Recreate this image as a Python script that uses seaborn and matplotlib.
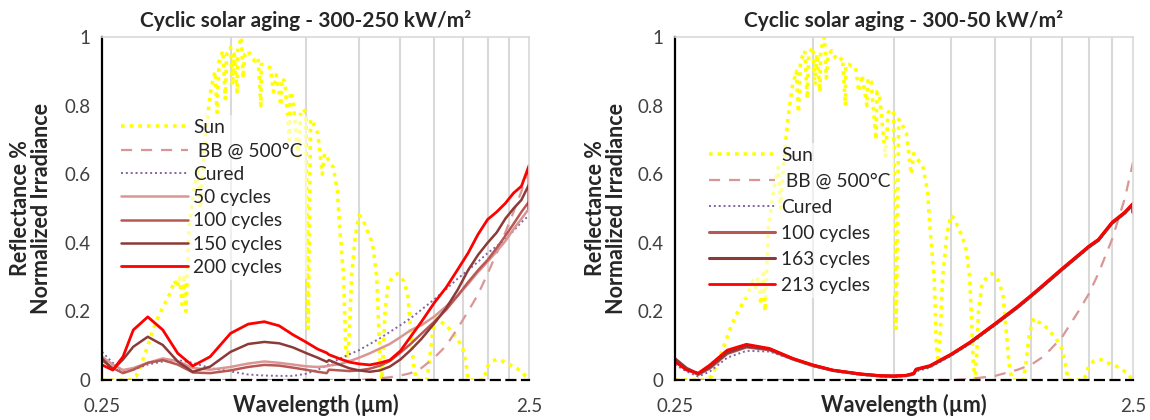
import numpy as np
import pandas as pd
import matplotlib
matplotlib.use('Agg')
import matplotlib.pyplot as plt
from matplotlib.ticker import FixedLocator, NullFormatter, FixedFormatter
import seaborn as sns

sns.set_style('white')
plt.rcParams['font.family'] = ['Lato', 'DejaVu Sans']

# normalized AM1.5 sun spectrum
sun_wl = [0.25, 0.29, 0.30, 0.31, 0.32, 0.33, 0.34, 0.35, 0.36, 0.37, 0.375, 0.38, 0.385, 0.39, 0.393,
          0.40, 0.41, 0.42, 0.425, 0.43, 0.435, 0.44, 0.45, 0.46, 0.465, 0.47, 0.48, 0.486, 0.49, 0.50,
          0.505, 0.51, 0.518, 0.52, 0.53, 0.535, 0.54, 0.55, 0.56, 0.57, 0.58, 0.589, 0.59, 0.60, 0.62,
          0.63, 0.64, 0.656, 0.66, 0.67, 0.687, 0.69, 0.70, 0.72, 0.73, 0.74, 0.75, 0.76, 0.77, 0.78,
          0.80, 0.82, 0.83, 0.85, 0.87, 0.89, 0.90, 0.92, 0.93, 0.94, 0.95, 0.96, 0.98, 1.0, 1.02,
          1.04, 1.06, 1.08, 1.10, 1.12, 1.13, 1.14, 1.15, 1.17, 1.20, 1.23, 1.25, 1.27, 1.30, 1.32,
          1.34, 1.36, 1.40, 1.44, 1.46, 1.48, 1.50, 1.52, 1.55, 1.60, 1.65, 1.70, 1.75, 1.78, 1.80,
          1.95, 1.98, 2.0, 2.05, 2.1, 2.15, 2.2, 2.3, 2.4, 2.5]
sun_val = [0.0, 0.0, 0.01, 0.05, 0.10, 0.15, 0.19, 0.22, 0.25, 0.29, 0.27, 0.30, 0.22, 0.31, 0.20,
           0.45, 0.55, 0.62, 0.50, 0.60, 0.68, 0.75, 0.85, 0.90, 0.78, 0.93, 0.96, 0.82, 0.95, 0.97,
           0.86, 0.95, 0.84, 0.96, 1.0, 0.88, 0.95, 0.96, 0.94, 0.93, 0.94, 0.80, 0.92, 0.92, 0.91,
           0.84, 0.89, 0.80, 0.88, 0.87, 0.70, 0.84, 0.82, 0.65, 0.78, 0.79, 0.78, 0.15, 0.76, 0.75,
           0.72, 0.60, 0.66, 0.64, 0.62, 0.55, 0.45, 0.30, 0.10, 0.05, 0.15, 0.30, 0.42, 0.48, 0.47,
           0.44, 0.42, 0.38, 0.30, 0.05, 0.0, 0.08, 0.20, 0.28, 0.30, 0.31, 0.30, 0.29, 0.25, 0.15,
           0.05, 0.0, 0.0, 0.0, 0.05, 0.12, 0.16, 0.18, 0.17, 0.16, 0.14, 0.12, 0.09, 0.05, 0.0,
           0.0, 0.02, 0.04, 0.055, 0.06, 0.058, 0.05, 0.04, 0.025, 0.0]

# left chart: 300-250 kW/m2
wl_left = [0.25, 0.265, 0.28, 0.296, 0.32, 0.347, 0.376, 0.408, 0.448, 0.5, 0.55, 0.6, 0.65, 0.7,
           0.75, 0.8, 0.84, 0.85, 0.9, 0.95, 1.0, 1.06, 1.12, 1.18, 1.25, 1.32, 1.4, 1.5, 1.6, 1.7,
           1.8, 1.9, 2.0, 2.1, 2.2, 2.3, 2.4, 2.5, 2.5]
bb_left = [0.0, 0.0, 0.0, 0.0, 0.0, 0.0, 0.0, 0.0, 0.0, 0.0, 0.0, 0.0, 0.0, 0.0,
           0.0, 0.0, 0.0, 0.0, 0.0, 0.0, 0.0, 0.002, 0.005, 0.008, 0.013, 0.02, 0.035, 0.065, 0.10, 0.15,
           0.20, 0.25, 0.31, 0.37, 0.43, 0.49, 0.55, 0.62, 0.62]
cured_left = [0.082, 0.05, 0.024, 0.03, 0.045, 0.054, 0.058, 0.05, 0.035, 0.025, 0.016, 0.013, 0.012, 0.012,
              0.018, 0.03, 0.042, 0.046, 0.062, 0.075, 0.087, 0.105, 0.122, 0.14, 0.16, 0.18, 0.205, 0.235, 0.265, 0.295,
              0.32, 0.345, 0.37, 0.39, 0.41, 0.435, 0.46, 0.48, 0.48]
c50_left = [0.068, 0.045, 0.029, 0.035, 0.05, 0.063, 0.055, 0.035, 0.03, 0.038, 0.048, 0.054, 0.05, 0.045,
            0.04, 0.038, 0.04, 0.042, 0.046, 0.055, 0.065, 0.078, 0.092, 0.105, 0.125, 0.145, 0.16, 0.185, 0.215, 0.245,
            0.28, 0.315, 0.345, 0.375, 0.405, 0.44, 0.47, 0.50, 0.49]
c100_left = [0.058, 0.035, 0.02, 0.03, 0.05, 0.058, 0.045, 0.022, 0.02, 0.028, 0.038, 0.044, 0.042, 0.036,
             0.03, 0.024, 0.02, 0.03, 0.028, 0.026, 0.028, 0.033, 0.042, 0.055, 0.08, 0.105, 0.135, 0.17, 0.205, 0.245,
             0.285, 0.32, 0.35, 0.385, 0.42, 0.455, 0.49, 0.52, 0.50]
c150_left = [0.063, 0.03, 0.06, 0.097, 0.126, 0.102, 0.054, 0.024, 0.039, 0.082, 0.105, 0.111, 0.107, 0.095,
             0.079, 0.065, 0.053, 0.058, 0.045, 0.034, 0.028, 0.024, 0.028, 0.039, 0.06, 0.087, 0.12, 0.165, 0.21, 0.262,
             0.32, 0.365, 0.40, 0.43, 0.47, 0.50, 0.525, 0.57, 0.50]
c200_left = [0.044, 0.029, 0.068, 0.146, 0.184, 0.146, 0.078, 0.041, 0.068, 0.136, 0.163, 0.170, 0.158, 0.132,
             0.111, 0.09, 0.079, 0.074, 0.062, 0.052, 0.047, 0.044, 0.05, 0.058, 0.085, 0.126, 0.17, 0.225, 0.27, 0.321,
             0.37, 0.425, 0.468, 0.49, 0.515, 0.545, 0.565, 0.625, 0.50]

# right chart: 300-50 kW/m2
wl_right = [0.25, 0.265, 0.281, 0.298, 0.325, 0.358, 0.402, 0.452, 0.5, 0.553, 0.635, 0.7, 0.75, 0.8,
            0.83, 0.84, 0.9, 1.0, 1.1, 1.25, 1.4, 1.5, 1.6, 1.75, 1.9, 2.0, 2.1, 2.25, 2.4, 2.5, 2.5]
bb_right = [0.0, 0.0, 0.0, 0.0, 0.0, 0.0, 0.0, 0.0, 0.0, 0.0, 0.0, 0.0, 0.0, 0.0,
            0.0, 0.0, 0.0, 0.0, 0.003, 0.012, 0.03, 0.045, 0.07, 0.125, 0.20, 0.25, 0.31, 0.41, 0.53, 0.635, 0.635]
cured_right = [0.045, 0.025, 0.01, 0.025, 0.065, 0.085, 0.083, 0.06, 0.04, 0.026, 0.015, 0.01, 0.009, 0.011,
               0.015, 0.025, 0.036, 0.07, 0.105, 0.16, 0.21, 0.243, 0.275, 0.32, 0.36, 0.385, 0.405, 0.455, 0.485, 0.51, 0.49]
c100_right = [0.058, 0.032, 0.016, 0.035, 0.077, 0.096, 0.088, 0.061, 0.042, 0.028, 0.017, 0.012, 0.011, 0.013,
              0.018, 0.03, 0.04, 0.073, 0.108, 0.163, 0.213, 0.246, 0.278, 0.323, 0.363, 0.388, 0.408, 0.458, 0.488, 0.513, 0.489]
c163_right = [0.062, 0.034, 0.018, 0.038, 0.08, 0.099, 0.09, 0.062, 0.043, 0.028, 0.017, 0.012, 0.011, 0.013,
              0.018, 0.03, 0.04, 0.073, 0.108, 0.162, 0.212, 0.245, 0.277, 0.322, 0.362, 0.387, 0.407, 0.457, 0.487, 0.512, 0.488]
c213_right = [0.053, 0.029, 0.020, 0.044, 0.087, 0.104, 0.092, 0.063, 0.044, 0.029, 0.018, 0.013, 0.012, 0.014,
              0.02, 0.032, 0.042, 0.075, 0.11, 0.165, 0.215, 0.248, 0.28, 0.325, 0.365, 0.39, 0.41, 0.46, 0.49, 0.515, 0.49]

x_grid = [0.5, 0.75, 1.0, 1.25, 1.5, 1.75, 2.0, 2.25]

SUN = dict(color='#FFFF00', lw=2.6, ls=(0, (1, 1.4)))
BB = dict(color='#DA9694', lw=1.6, ls=(0, (5, 4)))
CURED = dict(color='#8064A2', lw=1.4, ls=(0, (1, 1.5)))


def draw(ax, series, title, legend_anchor, spacing, title_x=0.5):
    sns.lineplot(x=sun_wl, y=sun_val, ax=ax, label='Sun', sort=False, estimator=None, **SUN)
    for wl, vals, label, style in series:
        sns.lineplot(x=wl, y=vals, ax=ax, label=label, sort=False, estimator=None, **style)

    ax.set_xscale('log')
    ax.set_xlim(0.25, 2.5)
    ax.set_ylim(0, 1)
    ax.xaxis.set_major_locator(FixedLocator([0.25, 2.5]))
    ax.xaxis.set_major_formatter(FixedFormatter(['0.25', '2.5']))
    ax.xaxis.set_minor_locator(FixedLocator(x_grid))
    ax.xaxis.set_minor_formatter(NullFormatter())
    ax.set_yticks([0, 0.2, 0.4, 0.6, 0.8, 1.0])
    ax.set_yticklabels(['0', '0.2', '0.4', '0.6', '0.8', '1'])
    ax.grid(False)
    ax.grid(which='minor', axis='x', color='#D9D9D9', lw=1.5)
    ax.tick_params(axis='both', which='both', direction='out', length=5, width=1.2,
                   color='black', labelsize=13.5, labelcolor='#404040')
    ax.tick_params(axis='x', which='both', pad=8)
    ax.set_axisbelow(True)

    for side in ('top', 'right'):
        ax.spines[side].set_color('#D9D9D9')
        ax.spines[side].set_linewidth(1.2)
    ax.spines['left'].set_color('black')
    ax.spines['left'].set_linewidth(1.6)
    ax.spines['bottom'].set_color('black')
    ax.spines['bottom'].set_linewidth(1.6)
    ax.spines['bottom'].set_linestyle((0, (4, 3)))

    ax.set_title(title, fontsize=15, fontweight='bold', pad=7, x=title_x)
    ax.set_xlabel('Wavelength (µm)', fontsize=15.5, fontweight='bold')
    ax.xaxis.set_label_coords(0.5, -0.04)
    ax.set_ylabel('Reflectance %\nNormalized Irradiance', fontsize=15.5, fontweight='bold',
                  linespacing=1.0)

    leg = ax.legend(loc='upper left', bbox_to_anchor=legend_anchor, frameon=True, fontsize=13.75,
                    handlelength=3.5, handletextpad=0.3, labelspacing=spacing, borderpad=0.2,
                    borderaxespad=0)
    leg.get_frame().set_facecolor('white')
    leg.get_frame().set_alpha(0.6)
    leg.get_frame().set_linewidth(0)
    for t in leg.get_texts():
        t.set_color('#262626')


fig = plt.figure(figsize=(11.5, 4.2), dpi=100)
ax1 = fig.add_axes([102 / 1150, 40 / 420, 427 / 1150, 343 / 420])
ax2 = fig.add_axes([675 / 1150, 40 / 420, 458 / 1150, 343 / 420])

left_series = [
    (wl_left, bb_left, ' BB @ 500°C', BB),
    (wl_left, cured_left, 'Cured', CURED),
    (wl_left, c50_left, '50 cycles', dict(color='#D99694', lw=1.8)),
    (wl_left, c100_left, '100 cycles', dict(color='#B95754', lw=1.8)),
    (wl_left, c150_left, '150 cycles', dict(color='#8C3A38', lw=1.8)),
    (wl_left, c200_left, '200 cycles', dict(color='#FF0000', lw=2.0)),
]
right_series = [
    (wl_right, bb_right, ' BB @ 500°C', BB),
    (wl_right, cured_right, 'Cured', CURED),
    (wl_right, c100_right, '100 cycles', dict(color='#B95754', lw=2.2)),
    (wl_right, c163_right, '163 cycles', dict(color='#8C3A38', lw=2.2)),
    (wl_right, c213_right, '213 cycles', dict(color='#FF0000', lw=2.0)),
]

draw(ax1, left_series, 'Cyclic solar aging - 300-250 kW/m²', (0.035, 0.772), 0.33, title_x=0.477)
draw(ax2, right_series, 'Cyclic solar aging - 300-50 kW/m²', (0.065, 0.69), 0.47)
ax1.yaxis.set_label_coords(-0.118, 0.5)
ax2.yaxis.set_label_coords(-0.104, 0.5)

fig.savefig('out.png', dpi=100)
